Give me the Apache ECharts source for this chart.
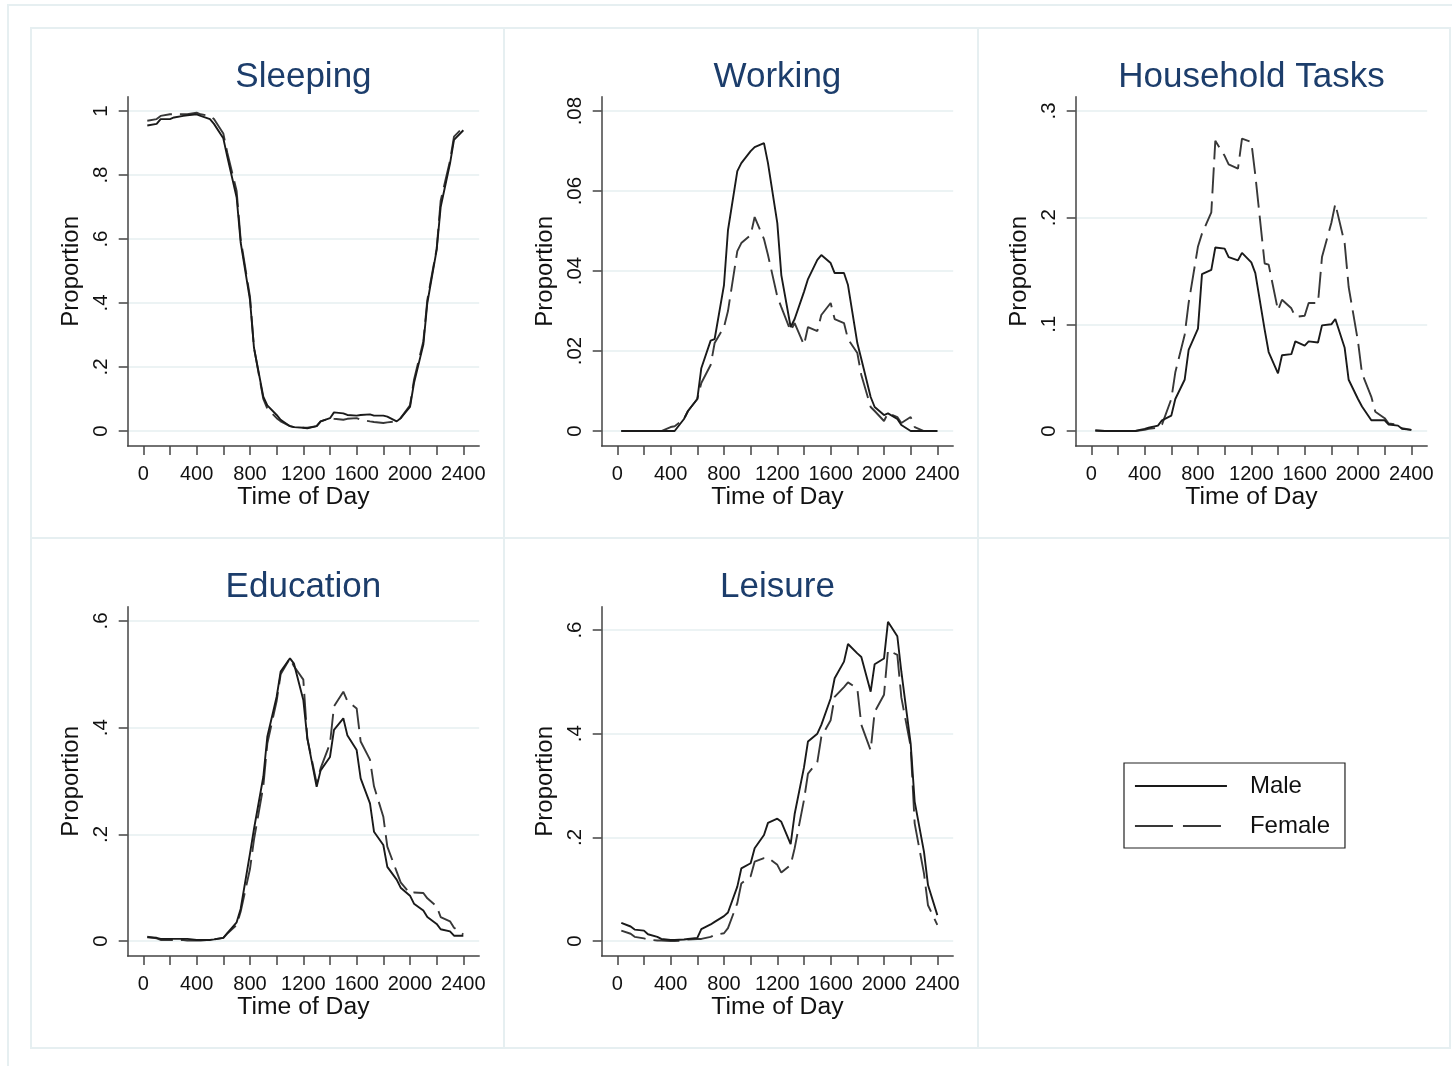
<!DOCTYPE html>
<html><head><meta charset="utf-8">
<script src="https://cdn.jsdelivr.net/npm/echarts@6/dist/echarts.min.js"></script>
<style>html,body{margin:0;padding:0;background:#fff}#c{width:1452px;height:1066px}</style>
</head><body><div id="c"></div>
<script>
// ---------- DATA ----------
const times = [30,100,130,200,230,300,330,400,430,500,530,600,630,700,730,800,830,900,930,1000,1030,1100,1130,1200,1230,1300,1330,1400,1430,1500,1530,1600,1630,1700,1730,1800,1830,1900,1930,2000,2030,2100,2130,2200,2230,2300,2330,2400];

const sleepMale = [.955,.96,.975,.975,.98,.985,.987,.99,.985, .975,.96,.915,.857,.73,.59,.41,.26,.107,.08, .05,.035,.015,.012,.01,.008,.015,.03,.04,.058, .055,.05,.048,.05,.052,.048,.048,.045,.03,.04, .075,.15,.27,.4,.566,.7,.836,.91,.94];
const sleepFemale = [.97,.975,.985,.99,.99,.99,.99,.995,.99, .985,.975,.93,.87,.75,.6,.42,.26,.1,.07, .04,.03,.015,.012,.01,.01,.015,.03,.04,.038, .035,.038,.04,.035,.03,.028,.025,.027,.03,.04, .08,.16,.28,.41,.57,.72,.845,.92,.95];

const workMale = [0,0,0,0,0,0,0,0,0, .003,.005,.008,.0157,.0226,.023,.0365,.0502,.065,.067, .07,.071,.072,.067,.052,.039,.026,.028,.0348,.038, .0428,.044,.042,.0395,.0395,.0365,.022,.018,.0085,.006, .004,.0044,.003,.0015,0,0,0,0,0];
const workFemale = [0,0,0,0,0,0,0,.001,.0012, .003,.005,.008,.012,.0165,.022,.026,.03,.045,.047, .049,.0535,.048,.044,.0336,.031,.025,.027,.0215,.026, .025,.029,.032,.028,.027,.023,.0195,.014,.006,.005, .0025,.0045,.0035,.002,.0035,.001,0,0,0];

const houseMale = [.0005,0,0,0,0,0,0,.002,.003, .005,.01,.0144,.03,.048,.076,.096,.147,.151,.172, .171,.163,.16,.167,.158,.148,.095,.074,.054,.071, .072,.084,.08,.084,.083,.099,.1,.105,.078,.048, .03,.023,.01,.01,.01,.006,.005,.002,.001];
const houseFemale = [.0005,0,0,0,0,0,0,.001,.002, .003,.006,.03,.055,.09,.12,.173,.185,.205,.272, .258,.25,.246,.274,.271,.24,.157,.156,.113,.123, .115,.107,.108,.12,.12,.163,.195,.213,.176,.135, .084,.054,.032,.018,.012,.007,.006,.0025,.001];

const eduMale = [.007,.006,.004,.004,.004,.004,.004,.002,.002, .002,.003,.006,.015,.035,.06,.164,.21,.308,.383, .458,.505,.53,.52,.452,.38,.289,.32,.345,.396, .4175,.386,.358,.305,.258,.205,.18,.139,.115,.1, .085,.07,.057,.045,.032,.022,.018,.01,.01];
const eduFemale = [.008,.005,.002,.002,.002,.002,.001,.001,.001, .002,.003,.006,.014,.03,.055,.135,.19,.29,.37, .45,.5,.53,.515,.49,.38,.296,.324,.37,.44, .4675,.45,.436,.374,.34,.29,.233,.177,.13,.11, .089,.091,.09,.08,.065,.045,.037,.025,.012];

const leisMale = [.035,.028,.022,.02,.013,.008,.004,.002,.002, .003,.004,.006,.023,.032,.037,.048,.055,.105,.14, .15,.179,.2045,.228,.236,.23,.187,.245,.335,.385, .4,.417,.468,.507,.539,.573,.555,.548,.481,.534, .545,.616,.588,.52,.381,.269,.172,.108,.05];
const leisFemale = [.02,.014,.008,.005,.003,.001,.001,0,0, .001,.003,.004,.004,.008,.012,.015,.025,.073,.111, .125,.153,.16,.161,.147,.132,.147,.179,.272,.323, .345,.394,.426,.471,.49,.499,.487,.417,.368,.442, .475,.561,.552,.47,.375,.227,.13,.069,.031];

const panelTitles = ['Sleeping','Working','Household Tasks','Education','Leisure'];
const seriesNames = ['Male','Female'];
const xTickValues = [0,200,400,600,800,1000,1200,1400,1600,1800,2000,2200,2400];
const xLabelValues = [0,400,800,1200,1600,2000,2400];
const sleepTicks = [0,.2,.4,.6,.8,1];
const workTicks = [0,.02,.04,.06,.08];
const houseTicks = [0,.1,.2,.3];
const eduTicks = [0,.2,.4,.6];
const leisTicks = [0,.2,.4,.6];
const xTitle = 'Time of Day';
const yTitle = 'Proportion';

// ---------- LAYOUT ----------
const FONT = '"Liberation Sans", Arial, sans-serif';
const panels = [
  {male: sleepMale, female: sleepFemale, ticks: sleepTicks, yMin: -0.047, yMax: 1.045, col: 0, row: 0},
  {male: workMale, female: workFemale, ticks: workTicks, yMin: -0.00375, yMax: 0.0836, col: 1, row: 0},
  {male: houseMale, female: houseFemale, ticks: houseTicks, yMin: -0.0141, yMax: 0.3134, col: 2, row: 0},
  {male: eduMale, female: eduFemale, ticks: eduTicks, yMin: -0.0281, yMax: 0.6268, col: 0, row: 1},
  {male: leisMale, female: leisFemale, ticks: leisTicks, yMin: -0.0289, yMax: 0.645, col: 1, row: 1}
];
const GW = 351.5, GH = 349.3;
const gridLeft = c => 127.7 + 474 * c;
const gridTop = r => 96.7 + 510 * r;
const MALE_COLOR = '#1a1a1a', FEMALE_COLOR = '#383838';

const grids = [], xAxes = [], yAxes = [], series = [], titles = [];
const fmtY = v => String(v).replace(/^0\./, '.');
panels.forEach((p, i) => {
  const L = gridLeft(p.col), T = gridTop(p.row);
  grids.push({left: L, top: T, width: GW, height: GH, containLabel: false});
  titles.push({text: panelTitles[i], left: L + GW / 2, top: T - 37, textAlign: 'center', padding: 0,
    textStyle: {fontSize: 35, fontWeight: 'normal', color: '#1c3d6b', fontFamily: FONT}});
  xAxes.push({type: 'value', gridIndex: i, min: -117, max: 2519,
    name: xTitle, nameLocation: 'middle', nameGap: 36,
    nameTextStyle: {fontSize: 24.7, color: '#111', fontFamily: FONT},
    axisLine: {show: true, onZero: false, lineStyle: {color: '#444', width: 1.5}},
    axisTick: {show: true, length: 9, customValues: xTickValues, lineStyle: {color: '#444', width: 1.5}},
    axisLabel: {customValues: xLabelValues, fontSize: 20, color: '#111', margin: 18, fontFamily: FONT,
      formatter: v => String(v)},
    splitLine: {show: false}});
  yAxes.push({type: 'value', gridIndex: i, min: p.yMin, max: p.yMax,
    name: yTitle, nameLocation: 'middle', nameGap: 44,
    nameTextStyle: {fontSize: 24, color: '#111', fontFamily: FONT},
    axisLine: {show: true, onZero: false, lineStyle: {color: '#444', width: 1.5}},
    axisTick: {show: true, length: 9, customValues: p.ticks, lineStyle: {color: '#444', width: 1.5}},
    axisLabel: {customValues: p.ticks, rotate: 90, fontSize: 20.5, color: '#111', margin: 16, fontFamily: FONT, formatter: fmtY},
    splitLine: {show: true, lineStyle: {color: '#e6eff1', width: 1.5}}});
  series.push({name: seriesNames[0], type: 'line', xAxisIndex: i, yAxisIndex: i, symbol: 'none',
    color: MALE_COLOR, itemStyle: {color: MALE_COLOR},
    data: times.map((t, j) => [t, p.male[j]]), lineStyle: {color: MALE_COLOR, width: 1.9, type: 'solid'}, z: 3});
  series.push({name: seriesNames[1], type: 'line', xAxisIndex: i, yAxisIndex: i, symbol: 'none',
    color: FEMALE_COLOR, itemStyle: {color: FEMALE_COLOR},
    data: times.map((t, j) => [t, p.female[j]]), lineStyle: {color: FEMALE_COLOR, width: 1.9, type: [26, 8]}, z: 2});
});

// panel frames
const colX = [31, 504, 978, 1450], rowY = [28, 538, 1048];
const frames = [{type: 'rect', shape: {x: 8, y: 5, width: 1600, height: 1200}, style: {fill: 'none', stroke: '#e6eff1', lineWidth: 2}, silent: true}];
for (let r = 0; r < 2; r++) for (let c = 0; c < 3; c++) {
  frames.push({type: 'rect', shape: {x: colX[c], y: rowY[r], width: colX[c+1] - colX[c], height: rowY[r+1] - rowY[r]},
    style: {fill: 'none', stroke: '#e6eff1', lineWidth: 2}, silent: true});
}

const chart = echarts.init(document.getElementById('c'), null, {renderer: 'canvas'});
chart.setOption({
  animation: false,
  backgroundColor: '#fff',
  title: titles,
  grid: grids, xAxis: xAxes, yAxis: yAxes, series: series,
  graphic: frames,
  legend: {
    data: [
      {name: 'Male', itemStyle: {opacity: 0}, lineStyle: {color: MALE_COLOR, width: 1.9}},
      {name: 'Female', itemStyle: {opacity: 0}, lineStyle: {color: FEMALE_COLOR, width: 1.9, type: [38, 10]}}
    ],
    orient: 'vertical', left: 1124, top: 763,
    itemWidth: 92, itemHeight: 24, itemGap: 16,
    padding: [11, 15, 10, 10],
    borderColor: '#222', borderWidth: 1.2,
    textStyle: {fontSize: 24, color: '#111', fontFamily: FONT, padding: [0, 0, 0, 18]}
  }
});
</script></body></html>
